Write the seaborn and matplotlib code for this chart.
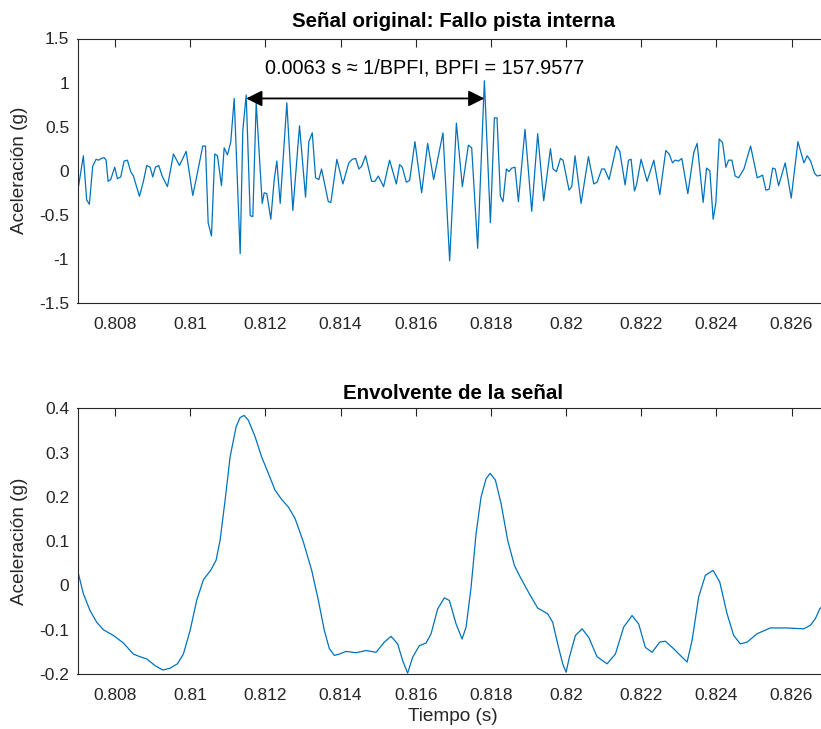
import numpy as np
import pandas as pd
import matplotlib
matplotlib.use("Agg")
import matplotlib.pyplot as plt
import seaborn as sns

# ---------------- data (time in ms, acceleration in g) ----------------
t_signal_ms = [
    807.000, 807.156, 807.244, 807.316, 807.404, 807.495, 807.564, 807.636, 807.708, 807.761,
    807.814, 807.883, 807.990, 808.062, 808.150, 808.240, 808.328, 808.416, 808.488, 808.648,
    808.754, 808.842, 808.933, 809.002, 809.074, 809.162, 809.252, 809.393, 809.553, 809.713,
    809.891, 810.067, 810.174, 810.333, 810.405, 810.477, 810.565, 810.653, 810.725, 810.831,
    810.903, 810.991, 811.079, 811.170, 811.329, 811.399, 811.489, 811.596, 811.665, 811.755,
    811.915, 811.968, 812.038, 812.144, 812.235, 812.304, 812.394, 812.570, 812.730, 812.908,
    813.068, 813.156, 813.247, 813.335, 813.422, 813.494, 813.582, 813.673, 813.742, 813.902,
    814.062, 814.221, 814.312, 814.400, 814.488, 814.560, 814.666, 814.826, 814.914, 815.004,
    815.145, 815.305, 815.484, 815.572, 815.643, 815.750, 815.838, 815.979, 816.158, 816.317,
    816.477, 816.725,
    816.903, 817.082, 817.241, 817.401, 817.489, 817.649, 817.827, 817.987, 818.093, 818.163,
    818.253, 818.322, 818.413, 818.482, 818.554, 818.642, 818.732, 818.908, 819.087, 819.246,
    819.406, 819.585, 819.654, 819.744, 819.851, 819.920, 820.080, 820.152, 820.240, 820.400,
    820.596, 820.738, 820.826, 820.951, 821.023, 821.145, 821.342, 821.430, 821.571, 821.662,
    821.731,
    821.821, 821.875, 821.997, 822.157, 822.335, 822.495, 822.655, 822.743, 822.833, 822.902,
    822.993, 823.081, 823.241, 823.400, 823.489, 823.648, 823.739, 823.827, 823.915, 823.987,
    824.075, 824.165, 824.253, 824.325, 824.413, 824.501, 824.592, 824.733, 824.911, 825.087,
    825.230, 825.318, 825.406, 825.497, 825.566, 825.656, 825.832, 825.992, 826.170, 826.330,
    826.418, 826.508, 826.615, 826.684, 826.775, 826.850,
]
signal_g = [
    -0.25, 0.17, -0.33, -0.38, 0.05, 0.13, 0.12, 0.14, 0.15, 0.12,
    -0.12, -0.10, 0.04, -0.09, -0.07, 0.11, 0.12, -0.01, -0.06, -0.29,
    -0.12, 0.06, 0.04, -0.07, 0.04, 0.06, -0.06, -0.18, 0.19, 0.06,
    0.22, -0.28, -0.06, 0.28, 0.28, -0.59, -0.74, 0.19, 0.17, -0.17,
    0.26, 0.18, 0.33, 0.82, -0.94, 0.46, 0.86, -0.51, -0.52, 0.77,
    -0.37, -0.25, -0.26, -0.55, -0.10, 0.11, -0.37, 0.77, -0.45, 0.51,
    -0.30, 0.33, 0.43, -0.08, -0.10, 0.02, -0.16, -0.35, -0.36, 0.13,
    -0.15, 0.09, 0.13, 0.14, 0.02, 0.05, 0.17, -0.12, -0.12, -0.06,
    -0.18, 0.12, -0.15, 0.07, 0.04, -0.13, -0.11, 0.33, -0.25, 0.31,
    -0.10, 0.43,
    -1.02, 0.54, -0.18, 0.29, 0.26, -0.88, 1.02, -0.59, 0.60, 0.60,
    -0.29, -0.35, 0.02, -0.01, 0.03, 0.04, -0.35, 0.47, -0.46, 0.42,
    -0.34, 0.25, 0.02, -0.01, 0.14, 0.12, -0.22, -0.18, 0.17, -0.37,
    0.16, -0.15, -0.13, 0.02, 0.02, -0.10, 0.28, 0.22, -0.16, 0.12,
    0.13,
    -0.23, -0.16, 0.13, -0.12, 0.12, -0.27, 0.23, 0.19, 0.09, 0.12,
    0.11, 0.14, -0.26, 0.21, 0.31, -0.36, 0.03, 0.00, -0.55, -0.36,
    0.36, 0.32, 0.04, 0.12, 0.12, -0.06, -0.08, 0.02, 0.28, -0.08,
    -0.05, -0.22, -0.21, 0.03, 0.02, -0.17, 0.09, -0.31, 0.33, 0.09,
    0.17, 0.11, -0.03, -0.06, -0.05, -0.04,
]

t_env_ms = [
    807.000, 807.156, 807.335, 807.510, 807.689, 807.955, 808.221, 808.487, 808.665, 808.841,
    809.064, 809.267, 809.464, 809.658, 809.817, 809.996, 810.171, 810.350, 810.544, 810.688,
    810.794, 810.927, 811.060, 811.220, 811.326, 811.433, 811.547, 811.725, 811.901, 812.079,
    812.258, 812.433, 812.612, 812.790, 813.011, 813.232, 813.410, 813.569, 813.703, 813.836,
    813.969, 814.147, 814.413, 814.679, 814.945, 815.166, 815.344, 815.520, 815.653, 815.786,
    815.919, 816.097, 816.276, 816.409, 816.584, 816.763, 816.896, 817.074, 817.234, 817.340,
    817.473, 817.606, 817.739, 817.872, 817.979, 818.120, 818.271, 818.447, 818.626, 818.804,
    819.025, 819.245, 819.511, 819.644, 819.778, 819.911, 820.001, 820.089, 820.249, 820.427,
    820.602, 820.826, 821.092, 821.313, 821.534, 821.757, 821.933, 822.111, 822.290, 822.492,
    822.643, 822.864, 823.088, 823.221, 823.354, 823.530, 823.708, 823.913, 824.089, 824.285,
    824.461, 824.639, 824.818, 825.084, 825.438, 825.882, 826.324, 826.502, 826.635, 826.750,
    826.900,
]
envelope_g = [
    0.035, -0.019, -0.057, -0.083, -0.100, -0.113, -0.130, -0.155, -0.161, -0.166,
    -0.181, -0.191, -0.187, -0.177, -0.155, -0.102, -0.034, 0.013, 0.034, 0.057,
    0.102, 0.192, 0.290, 0.358, 0.379, 0.384, 0.373, 0.336, 0.290, 0.253,
    0.215, 0.194, 0.177, 0.151, 0.098, 0.034, -0.034, -0.102, -0.143, -0.158,
    -0.155, -0.149, -0.152, -0.147, -0.151, -0.128, -0.115, -0.132, -0.170, -0.198,
    -0.162, -0.136, -0.130, -0.109, -0.053, -0.028, -0.034, -0.087, -0.121, -0.094,
    -0.004, 0.117, 0.200, 0.241, 0.253, 0.238, 0.185, 0.102, 0.045, 0.015,
    -0.019, -0.051, -0.064, -0.083, -0.132, -0.177, -0.196, -0.162, -0.113, -0.098,
    -0.117, -0.161, -0.177, -0.155, -0.094, -0.068, -0.087, -0.140, -0.151, -0.128,
    -0.126, -0.143, -0.162, -0.173, -0.124, -0.026, 0.023, 0.034, 0.008, -0.064,
    -0.113, -0.132, -0.128, -0.109, -0.096, -0.096, -0.098, -0.090, -0.075, -0.053,
    -0.040,
]

xtick_values = [0.808, 0.810, 0.812, 0.814, 0.816, 0.818, 0.820, 0.822, 0.824, 0.826]
xtick_labels = ["0.808", "0.81", "0.812", "0.814", "0.816", "0.818", "0.82", "0.822", "0.824", "0.826"]
ytop_values = [-1.5, -1.0, -0.5, 0.0, 0.5, 1.0, 1.5]
ytop_labels = ["-1.5", "-1", "-0.5", "0", "0.5", "1", "1.5"]
ybot_values = [-0.2, -0.1, 0.0, 0.1, 0.2, 0.3, 0.4]
ybot_labels = ["-0.2", "-0.1", "0", "0.1", "0.2", "0.3", "0.4"]

arrow_start_s = 0.811489
arrow_end_s = 0.817827
arrow_level_g = 0.82
annot_x_s = 0.81624
annot_y_g = 1.17
annot_text = "0.0063 s \u2248 1/BPFI, BPFI = 157.9577"

title_top = "Señal original: Fallo pista interna"
title_bot = "Envolvente de la señal"
ylabel = "Aceleración (g)"
xlabel = "Tiempo (s)"

# ---------------- style ----------------
sns.set_style("white")
plt.rcParams["font.family"] = ["Liberation Sans", "DejaVu Sans"]
TXT = "#262626"
LINE = "#0072BD"

df_sig = pd.DataFrame({"t": np.array(t_signal_ms) / 1000.0, "a": signal_g})
df_env = pd.DataFrame({"t": np.array(t_env_ms) / 1000.0, "a": envelope_g})

fig = plt.figure(figsize=(8.21, 7.29), dpi=100)
W, H = 821.0, 729.0
left = 77.5 / W
width = (0.827 - 0.807) * 37580 / W
ax1 = fig.add_axes([left, 1 - 303.0 / H, width, 264.5 / H])
ax2 = fig.add_axes([left, 1 - 674.0 / H, width, 265.7 / H])

sns.lineplot(data=df_sig, x="t", y="a", ax=ax1, color=LINE, linewidth=0.9,
             estimator=None, sort=False)
sns.lineplot(data=df_env, x="t", y="a", ax=ax2, color=LINE, linewidth=0.9,
             estimator=None, sort=False)

for ax, yv, yl in [(ax1, ytop_values, ytop_labels), (ax2, ybot_values, ybot_labels)]:
    ax.set_xlim(0.807, 0.827)
    ax.set_ylim(yv[0], yv[-1])
    ax.set_xticks(xtick_values)
    ax.set_xticklabels(xtick_labels)
    ax.set_yticks(yv)
    ax.set_yticklabels(yl)
    ax.tick_params(direction="in", length=5.5, width=0.8, colors=TXT,
                   labelsize=12.5, top=True, right=True)
    ax.tick_params(axis="x", pad=10)
    ax.tick_params(axis="y", pad=6)
    for s in ax.spines.values():
        s.set_color(TXT)
        s.set_linewidth(0.8)
    ax.set_ylabel(ylabel, fontsize=13.7, color=TXT, labelpad=8)
    ax.set_xlabel("")

ax1.set_title(title_top, fontsize=14.8, fontweight="bold", color="black", pad=8)
ax2.set_title(title_bot, fontsize=14.8, fontweight="bold", color="black", pad=7)
ax2.set_xlabel(xlabel, fontsize=13.7, color=TXT, labelpad=4)

ax1.annotate("", xy=(arrow_end_s, arrow_level_g), xytext=(arrow_start_s, arrow_level_g),
             arrowprops=dict(arrowstyle="<|-|>", color="black", lw=1.3,
                             mutation_scale=24, shrinkA=0, shrinkB=0))
ax1.text(annot_x_s, annot_y_g, annot_text,
         ha="center", va="center", fontsize=14.3, color="black")

fig.savefig("out.png", dpi=100)
